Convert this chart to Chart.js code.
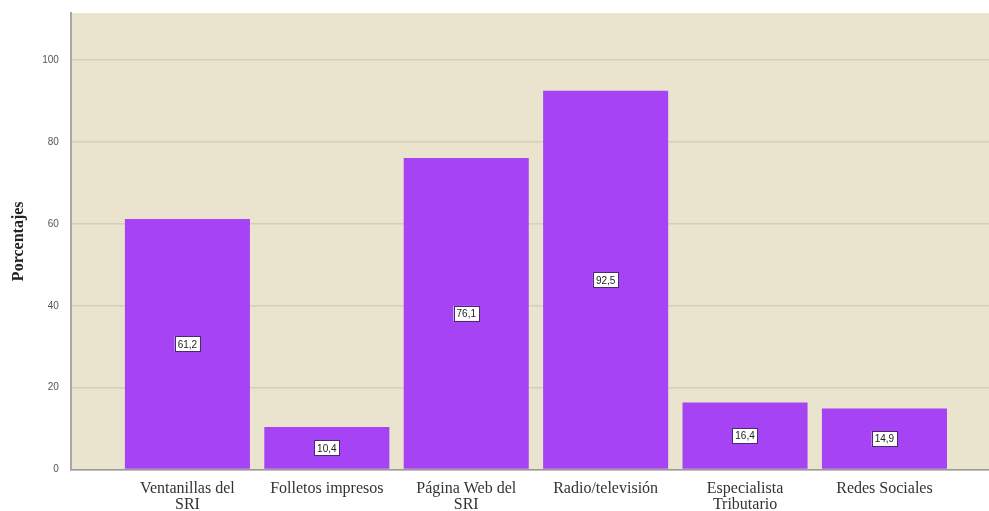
<!DOCTYPE html>
<html>
<head>
<meta charset="utf-8">
<script src="https://cdn.jsdelivr.net/npm/chart.js@4/dist/chart.umd.min.js"></script>
<style>
html,body{margin:0;padding:0;background:#fff;}
#wrap{width:989px;height:511px;}
</style>
</head>
<body>
<div id="wrap"><canvas id="c" width="989" height="511"></canvas></div>
<script>
const categories = [["Ventanillas del","SRI"],"Folletos impresos",["Página Web del","SRI"],"Radio/televisión",["Especialista","Tributario"],"Redes Sociales"];
const values = [61.2, 10.4, 76.1, 92.5, 16.4, 14.9];
const yTicks = [0, 20, 40, 60, 80, 100];

const bgPlugin = {
  id: 'bg',
  beforeDraw(chart) {
    const {ctx, chartArea: a} = chart;
    ctx.save();
    ctx.fillStyle = '#EAE3CD';
    ctx.fillRect(a.left, a.top, a.right - a.left, a.bottom - a.top);
    ctx.restore();
  }
};

const labelPlugin = {
  id: 'lbl',
  afterDatasetsDraw(chart) {
    const ctx = chart.ctx;
    const meta = chart.getDatasetMeta(0);
    ctx.save();
    ctx.font = '10px "Liberation Sans", Arial, sans-serif';
    ctx.textAlign = 'center';
    ctx.textBaseline = 'middle';
    meta.data.forEach((bar, i) => {
      const txt = values[i].toFixed(1).replace('.', ',');
      const cy = (bar.y + bar.base) / 2;
      const w = ctx.measureText(txt).width + 6;
      const h = 15;
      ctx.fillStyle = '#ffffff';
      ctx.fillRect(bar.x - w / 2, cy - h / 2, w, h);
      ctx.strokeStyle = '#4a2a6a';
      ctx.lineWidth = 1;
      ctx.strokeRect(Math.round(bar.x - w / 2) + 0.5, Math.round(cy - h / 2) + 0.5, Math.round(w), h);
      ctx.fillStyle = '#222';
      ctx.fillText(txt, bar.x, cy + 1);
    });
    ctx.restore();
  }
};

new Chart(document.getElementById('c'), {
  type: 'bar',
  data: {
    datasets: [{
      data: values.map((v, i) => ({x: i, y: v})),
      backgroundColor: '#A543F5',
      borderWidth: 0,
      categoryPercentage: 1,
      barPercentage: 0.897
    }]
  },
  options: {
    responsive: false,
    animation: false,
    devicePixelRatio: 1,
    layout: {padding: {top: 13, right: 0, left: 9, bottom: -13}},
    plugins: {legend: {display: false}, tooltip: {enabled: false}},
    scales: {
      x: {
        type: 'linear',
        offset: false,
        min: -0.836,
        max: 5.75,
        afterBuildTicks(scale) { scale.ticks = categories.map((c, i) => ({value: i})); },
        afterFit(scale) { scale.paddingLeft = 0; scale.paddingRight = 0; },
        ticks: {
          autoSkip: false,
          maxRotation: 0,
          color: '#333',
          padding: 12,
          font: {family: '"Liberation Serif", "Times New Roman", serif', size: 16, lineHeight: 0.95},
          callback: (v) => categories[v]
        },
        grid: {display: false, drawTicks: false},
        border: {display: true, color: '#9a9a9a', width: 1.5}
      },
      y: {
        min: 0,
        max: 111.5,
        afterBuildTicks(scale) { scale.ticks = yTicks.map(v => ({value: v})); },
        afterFit(scale) { scale.paddingTop = 0; scale.paddingBottom = 0; },
        ticks: {
          color: '#555',
          padding: 12,
          font: {family: '"Liberation Sans", Arial, sans-serif', size: 10}
        },
        title: {
          display: true,
          text: 'Porcentajes',
          color: '#222',
          padding: {top: 0, bottom: 2},
          font: {family: '"Liberation Serif", "Times New Roman", serif', size: 16, weight: 'bold'}
        },
        grid: {color: '#D5CEB8', lineWidth: 1.5, drawTicks: false},
        border: {display: true, color: '#a8a8a8', width: 2}
      }
    }
  },
  plugins: [bgPlugin, labelPlugin]
});
</script>
</body>
</html>
